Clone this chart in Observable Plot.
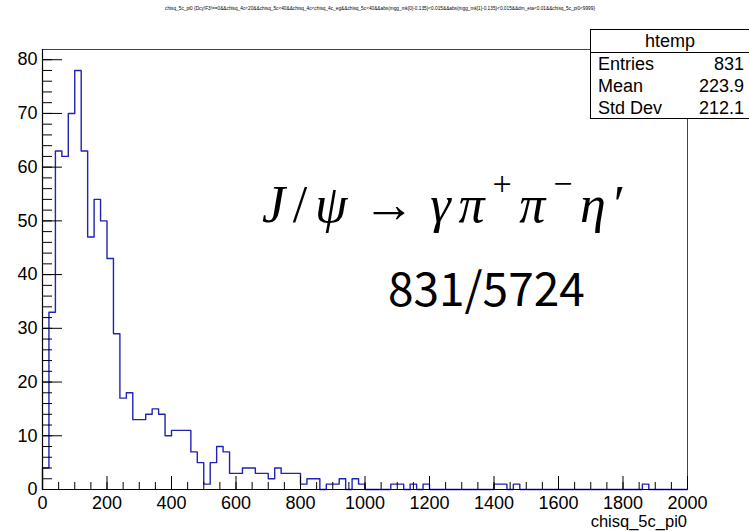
<!DOCTYPE html>
<html>
<head>
<meta charset="utf-8">
<script src="https://cdn.jsdelivr.net/npm/d3@7"></script>
<script src="https://cdn.jsdelivr.net/npm/@observablehq/plot@0.6"></script>
<style>
  html, body { margin: 0; padding: 0; background: #fff; }
  svg { display: block; }
</style>
</head>
<body>
<div id="chart"></div>
<script>
// ---- data ----
const binWidth = 20;            // chisq_5c_pi0 bin width
const counts = [
  4, 33, 63, 62, 70, 78, 63, 47, 54, 50,
  43, 29, 17, 18, 13, 13, 14, 15, 14, 10,
  11, 11, 11, 7, 5, 1, 5, 8, 7, 3,
  3, 4, 4, 3, 3, 2, 4, 3, 3, 3,
  1, 2, 2, 0, 1, 1, 2, 0, 2, 1,
  0, 0, 0, 0, 1, 1, 0, 1, 0, 1,
  0, 0, 0, 0, 0, 0, 0, 0, 0, 0,
  1, 1, 0, 1, 0, 0, 0, 0, 0, 0,
  0, 0, 0, 0, 0, 0, 0, 0, 0, 0,
  0, 0, 0, 1, 0, 0, 0, 0, 0, 0
];
const xTicks = [0, 200, 400, 600, 800, 1000, 1200, 1400, 1600, 1800, 2000];
const xMinorTicks = d3.range(0, 2001, 50);
const yTicks = [0, 10, 20, 30, 40, 50, 60, 70, 80];
const yMinorTicks = d3.range(0, 81, 2);
const statTitle = "htemp";
const statLabels = ["Entries", "Mean", "Std Dev"];
const statValues = ["831", "223.9", "212.1"];
const titleText = "chisq_5c_pi0 {Dcy!F3!==0&&chisq_4c<20&&chisq_5c<40&&chisq_4c<chisq_4c_eg&&chisq_5c<40&&abs(mgg_mk[0]-0.135)<0.015&&abs(mgg_mk[1]-0.135)<0.015&&dm_eta<0.01&&chisq_5c_pi0<9999}";
const xTitle = "chisq_5c_pi0";
const ratioText = "831/5724";
// decay formula pieces: [text, italic?, superscript?]
const formula = [
  ["J", true, false], ["/", false, false], ["ψ", true, false], ["→", false, false],
  ["γ", true, false], ["π", true, false], ["+", false, true], ["π", true, false],
  ["−", false, true], ["η", true, false], ["′", false, false]
];

// step outline of the histogram
const steps = [{x: 0, y: 0}]
  .concat(counts.map((c, i) => ({x: i * binWidth, y: c})))
  .concat([{x: counts.length * binWidth, y: 0}]);

const font = "'Liberation Sans', Arial, Helvetica, sans-serif";

const plot = Plot.plot({
  width: 749,
  height: 531,
  marginLeft: 42,
  marginRight: 62,
  marginTop: 49,
  marginBottom: 42,
  style: {fontFamily: font, fontSize: "18px", color: "#000", background: "#fff", overflow: "visible"},
  x: {domain: [0, 2000], axis: null},
  y: {domain: [0, 81.9], axis: null},
  marks: [
    Plot.frame({stroke: "#444", strokeWidth: 1}),
    // histogram outline
    Plot.line(steps, {x: "x", y: "y", curve: "step-after", stroke: "#2222b4", strokeWidth: 1.4}),
    // inner ticks, x axis
    Plot.ruleX(xMinorTicks, {x: d => d, y1: 0, y2: 0, insetBottom: 7, stroke: "#000", strokeWidth: 1}),
    Plot.ruleX(xTicks, {x: d => d, y1: 0, y2: 0, insetBottom: 13, stroke: "#000", strokeWidth: 1}),
    // inner ticks, y axis
    Plot.ruleY(yMinorTicks, {y: d => d, x1: 0, x2: 0, insetRight: -10, stroke: "#000", strokeWidth: 1}),
    Plot.ruleY(yTicks, {y: d => d, x1: 0, x2: 0, insetRight: -20, stroke: "#000", strokeWidth: 1}),
    // axis lines
    Plot.ruleY([0], {stroke: "#000", strokeWidth: 1.2}),
    Plot.ruleX([0], {stroke: "#000", strokeWidth: 1.2}),
    // tick labels
    Plot.axisX({ticks: xTicks, tickSize: 0, tickPadding: 7, tickFormat: d => String(d), label: null, fontSize: 18}),
    Plot.axisY({ticks: yTicks, tickSize: 0, tickPadding: 5, tickFormat: d => String(d), label: null, fontSize: 18})
  ]
});

document.getElementById("chart").appendChild(plot);
const svg = d3.select(plot);

// x axis title (right aligned at frame end)
svg.append("text")
  .attr("x", 687).attr("y", 527)
  .attr("text-anchor", "end")
  .attr("font-family", font).attr("font-size", 16.5)
  .text(xTitle);

// tiny histogram title
svg.append("text")
  .attr("x", 380).attr("y", 10)
  .attr("text-anchor", "middle")
  .attr("font-family", font).attr("font-size", 5)
  .attr("textLength", 430).attr("lengthAdjust", "spacingAndGlyphs")
  .text(titleText);

// stats box
const box = svg.append("g");
box.append("rect")
  .attr("x", 590.5).attr("y", 29.5).attr("width", 170).attr("height", 89)
  .attr("fill", "#fff").attr("stroke", "#000").attr("stroke-width", 1);
box.append("line")
  .attr("x1", 590.5).attr("x2", 760).attr("y1", 52.5).attr("y2", 52.5)
  .attr("stroke", "#000").attr("stroke-width", 1);
box.append("text")
  .attr("x", 670).attr("y", 47)
  .attr("text-anchor", "middle")
  .attr("font-family", font).attr("font-size", 18)
  .text(statTitle);
statLabels.forEach((lab, i) => {
  box.append("text")
    .attr("x", 598).attr("y", 70 + i * 22)
    .attr("text-anchor", "start")
    .attr("font-family", font).attr("font-size", 18)
    .text(lab);
  box.append("text")
    .attr("x", 744).attr("y", 70 + i * 22)
    .attr("text-anchor", "end")
    .attr("font-family", font).attr("font-size", 18)
    .text(statValues[i]);
});

// big annotation: J/psi -> gamma pi+ pi- eta' (pieces placed one after another)
const mathFont = "'Liberation Serif', 'DejaVu Serif', serif";
const fx0 = 262, fx1 = 625, fBase = 222;
const g = svg.append("g");
const nodes = formula.map(([s, it, sup]) =>
  g.append("text")
    .attr("text-anchor", "start")
    .attr("font-family", mathFont)
    .attr("font-size", sup ? 34 : 52)
    .attr("font-style", it ? "italic" : "normal")
    .attr("y", sup ? fBase - 27 : fBase)
    .text(s)
);
const widths = nodes.map(n => n.node().getComputedTextLength());
// extra room around the arrow
const extra = formula.map(([s]) => s === "→" ? 2 : 0);
const totalW = d3.sum(widths);
const gapUnits = (formula.length - 1) + d3.sum(extra);
const gap = Math.max(0, (fx1 - fx0 - totalW) / gapUnits);
let cx = fx0;
nodes.forEach((n, i) => {
  if (i > 0) cx += gap * (1 + (extra[i] ? 1 : 0));
  n.attr("x", cx);
  cx += widths[i];
  if (extra[i]) cx += gap;
});

svg.append("text")
  .attr("x", 388).attr("y", 306)
  .attr("text-anchor", "start")
  .attr("font-family", "'Noto Sans CJK JP', 'Noto Sans', sans-serif")
  .attr("font-size", 46)
  .text(ratioText);
</script>
</body>
</html>
